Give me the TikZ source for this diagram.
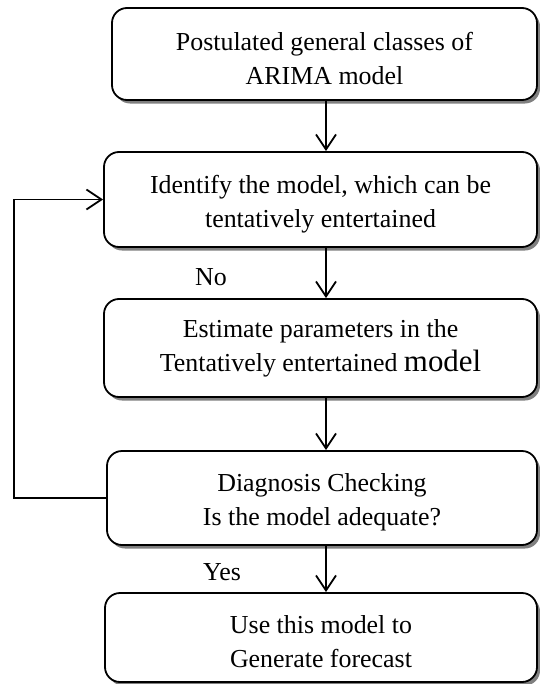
\documentclass[tikz,border=0pt]{standalone}
\usepackage{fontspec}
\setmainfont{Liberation Serif}
\usetikzlibrary{arrows.meta,shadows}
\newcommand{\topstrut}{\rule{0pt}{27bp}}
\tikzset{
  box/.style={draw=black, line width=1.8bp, rounded corners=15bp, fill=white,
    align=center, font=\fontsize{26}{34}\selectfont, inner sep=0pt,
    drop shadow={shadow xshift=3bp, shadow yshift=-3.5bp, fill=black!50, opacity=1}},
  arr/.style={line width=1.8bp, -{Straight Barb[length=15bp,width=20bp,line width=1.8bp]}},
  lbl/.style={font=\fontsize{26}{30}\selectfont, inner sep=0pt}
}
\begin{document}
\begin{tikzpicture}[x=1bp,y=-1bp]
\useasboundingbox (0,0) rectangle (540,684);
\node[box, minimum width=425bp, minimum height=92bp] (b1) at (324.5,54) {\topstrut Postulated general classes of\\ARIMA model};
\node[box, minimum width=433bp, minimum height=95bp] (b2) at (320.5,199.5) {\topstrut Identify the model, which can be\\tentatively entertained};
\node[box, minimum width=433bp, minimum height=98bp] (b3) at (320.5,348) {Estimate parameters in the\\Tentatively entertained {\fontsize{31}{34}\selectfont model}};
\node[box, minimum width=430bp, minimum height=94bp] (b4) at (322,498) {\topstrut Diagnosis Checking\\Is the model adequate?};
\node[box, minimum width=432bp, minimum height=89bp] (b5) at (321,637.5) {\topstrut Use this model to\\Generate forecast};
\coordinate (ax) at (326,0);
\draw[arr] (b1.south -| ax) -- (b2.north -| ax);
\draw[arr] (b2.south -| ax) -- (b3.north -| ax);
\draw[arr] (b3.south -| ax) -- (b4.north -| ax);
\draw[arr] (b4.south -| ax) -- (b5.north -| ax);
\draw[arr] (b4.west) -- ++(-92,0) |- (b2.west);
\node[lbl] (no) at (211,277) {No};
\node[lbl] (yes) at (222,572) {Yes};
\end{tikzpicture}
\end{document}
